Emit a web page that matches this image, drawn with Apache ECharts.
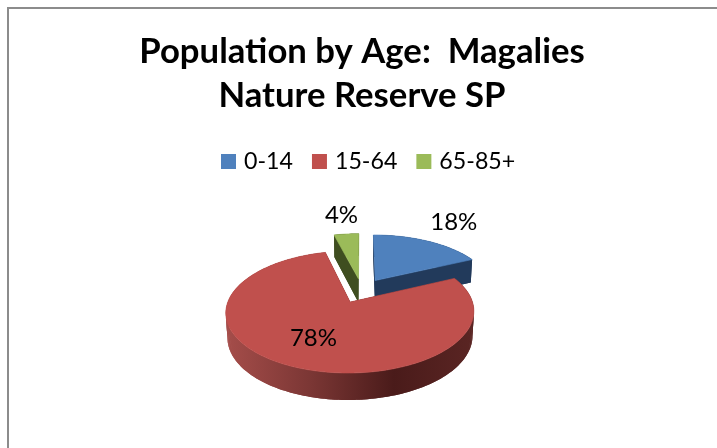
<!DOCTYPE html>
<html>
<head>
<meta charset="utf-8">
<style>html,body{margin:0;padding:0;background:#fff}#c{width:717px;height:448px}</style>
<script src="https://cdn.jsdelivr.net/npm/echarts@6/dist/echarts.min.js"></script>
</head>
<body>
<div id="c"></div>
<script>
var categories = ['0-14', '15-64', '65-85+'];
var shares = [18, 78, 4];
var topColors = ['#4f81bd', '#c0504d', '#9bbb59'];
var wallColors = ['#223a5b', null, '#3f4e20'];
var labelReach = [1.58, 0.62, 1.5];
var drawOrder = [2, 0, 1];

var CX = 361.6, CY = 290.6, RX = 118.5, RY = 55.7, PERSP = 0.158;
var EXPLODE = 0.22, DEPTH = 24;

function project(u, v) {
  var d = 1 - PERSP * v;
  return [CX + RX * u / d, CY + RY * v / d];
}
function drop(p) {
  return [CX + (p[0] - CX) * 0.988, p[1] + DEPTH + 3 * (p[1] - 290) / 83];
}
function sliceInfo(i) {
  var total = 0, before = 0;
  shares.forEach(function (s, j) { total += s; if (j < i) before += s; });
  var a0 = before / total * 2 * Math.PI, a1 = (before + shares[i]) / total * 2 * Math.PI;
  return { a0: a0, a1: a1, mid: (a0 + a1) / 2 };
}
function makeRender(i) {
  return function (params, api) {
    var info = sliceInfo(i);
    var ou = EXPLODE * Math.sin(info.mid), ov = -EXPLODE * Math.cos(info.mid);
    var outline = [project(ou, ov)];
    var steps = Math.max(6, Math.round((info.a1 - info.a0) * 40));
    for (var s = 0; s <= steps; s++) {
      var a = info.a0 + (info.a1 - info.a0) * s / steps;
      outline.push(project(ou + Math.sin(a), ov - Math.cos(a)));
    }
    var wallFill = wallColors[i] || new echarts.graphic.LinearGradient(226, 0, 473, 0, [
      { offset: 0, color: '#a54d4a' },
      { offset: 0.35, color: '#7a3634' },
      { offset: 0.68, color: '#4a1b1a' },
      { offset: 1, color: '#5a2523' }
    ], true);
    var children = [];
    var n = outline.length;
    for (var k = 0; k < n; k++) {
      var p0 = outline[k], p1 = outline[(k + 1) % n], p2 = outline[(k + 2) % n];
      children.push({
        type: 'polygon',
        shape: { points: [p0, p1, p2, drop(p2), drop(p1), drop(p0)] },
        style: { fill: wallFill }
      });
    }
    children.push({
      type: 'polygon',
      shape: { points: outline },
      style: { fill: topColors[i], stroke: topColors[i], lineWidth: 0.6 }
    });
    var lr = labelReach[i];
    var lp = project(ou + lr * Math.sin(info.mid), ov - lr * Math.cos(info.mid));
    children.push({
      type: 'text',
      style: {
        text: api.value(0) + '%', x: lp[0], y: lp[1],
        align: 'center', verticalAlign: 'middle',
        fontFamily: 'Lato', fontSize: 24, fill: '#000'
      }
    });
    return { type: 'group', children: children };
  };
}

var chart = echarts.init(document.getElementById('c'), null, { renderer: 'canvas' });
chart.setOption({
  animation: false,
  backgroundColor: '#fff',
  color: topColors,
  graphic: [{
    type: 'rect', z: -1,
    shape: { x: 8, y: 8, width: 730, height: 460 },
    style: { fill: '#fff', stroke: '#8c8c8c', lineWidth: 2 }
  }],
  title: {
    text: 'Population by Age:  Magalies\nNature Reserve SP',
    left: 357, top: 25, textAlign: 'center',
    textStyle: { fontFamily: 'Lato', fontWeight: 'bold', fontSize: 34.7, lineHeight: 44, color: '#000' }
  },
  legend: {
    data: categories, left: 221, top: 150, icon: 'rect', padding: 0,
    itemWidth: 15, itemHeight: 15, itemGap: 19,
    textStyle: { fontFamily: 'Lato', fontSize: 23.2, color: '#000', padding: [0, 0, 0, 3] }
  },
  series: drawOrder.map(function (i, order) {
    return {
      type: 'custom', name: categories[i], coordinateSystem: 'none',
      itemStyle: { color: topColors[i] }, z: 2 + order, silent: true,
      data: [[shares[i]]],
      renderItem: makeRender(i)
    };
  })
});
</script>
</body>
</html>
